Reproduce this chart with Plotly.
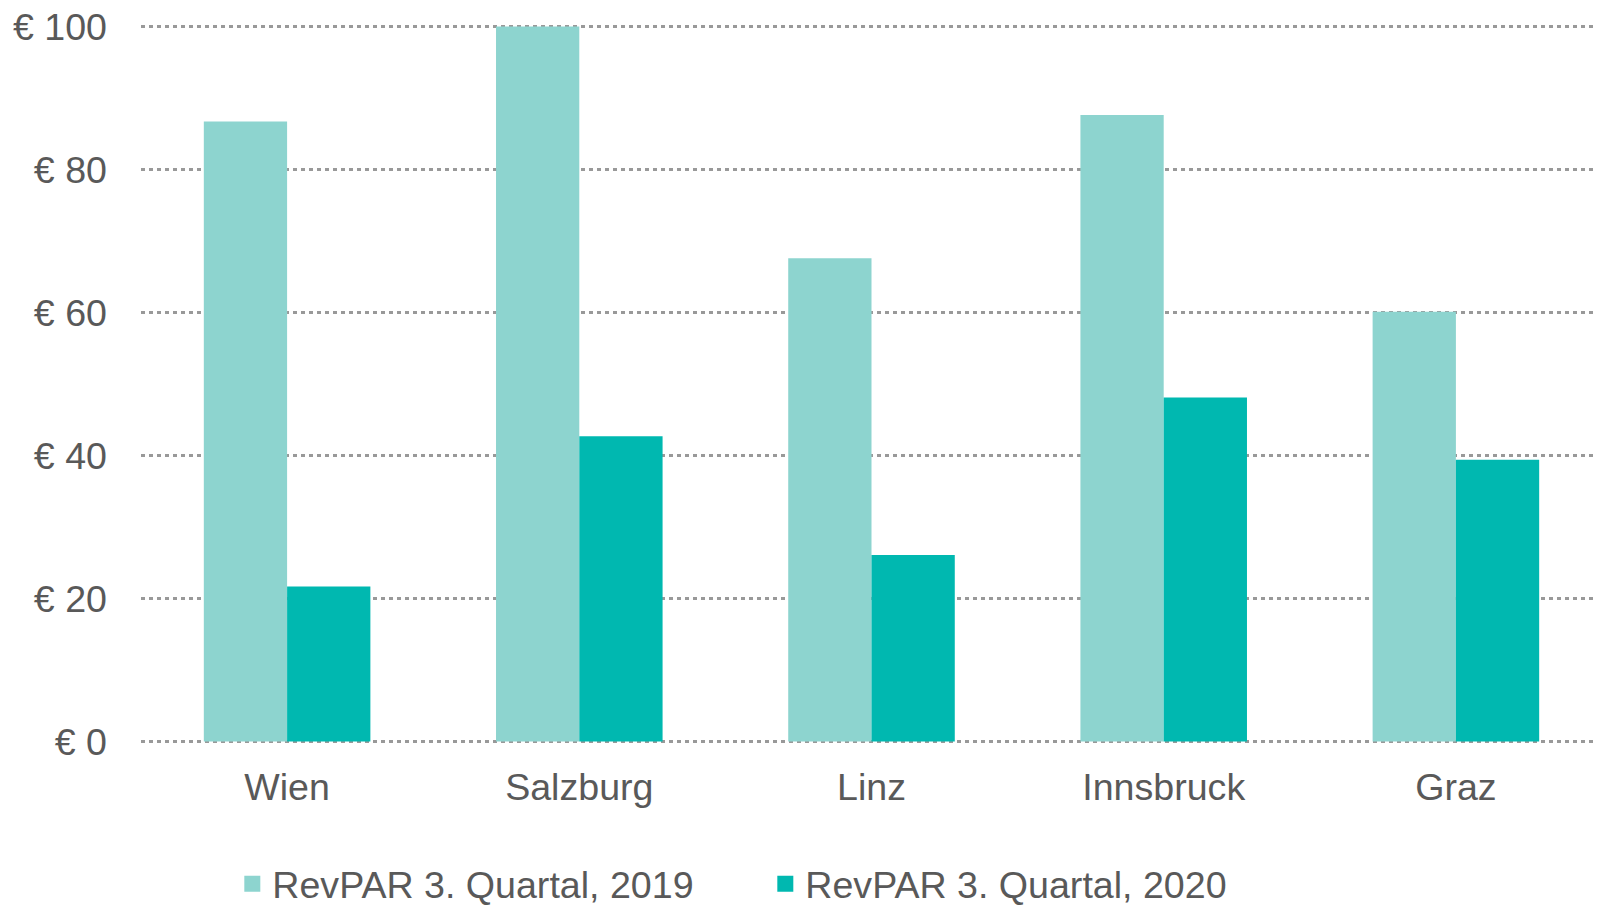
import plotly.graph_objects as go

cities = ["Wien", "Salzburg", "Linz", "Innsbruck", "Graz"]
revpar_2019 = [86.7, 100.0, 67.6, 87.6, 60.1]
revpar_2020 = [21.7, 42.7, 26.1, 48.1, 39.4]
series_names = ["RevPAR 3. Quartal, 2019", "RevPAR 3. Quartal, 2020"]
series_colors = ["#8DD4CF", "#00B8B0"]
y_ticks = [0, 20, 40, 60, 80, 100]
y_tick_labels = ["€ 0", "€ 20", "€ 40", "€ 60", "€ 80", "€ 100"]

TEXT = "#595959"
FONT = "Liberation Sans, Arial, sans-serif"
FS = 37.6

fig = go.Figure()
for vals, name, col in zip([revpar_2019, revpar_2020], series_names, series_colors):
    fig.add_trace(go.Bar(x=cities, y=vals, name=name, showlegend=False,
                         marker=dict(color=col, line=dict(width=0))))
for name, col in zip(series_names, series_colors):
    fig.add_trace(go.Scatter(x=[None], y=[None], mode="markers", name=name,
                             marker=dict(symbol="square", size=20, color=col)))

# page body has an 8px default margin, so the figure is drawn 8px in from the corner
W, H = 1594, 900
ml, mr, mt, mb = 133, 0, 17.3, 164.9
fig.update_layout(
    width=W, height=H,
    margin=dict(l=ml, r=mr, t=mt, b=mb, pad=0, autoexpand=False),
    paper_bgcolor="white", plot_bgcolor="white",
    barmode="group", bargap=0.43, bargroupgap=0,
    font=dict(family=FONT, color=TEXT, size=FS),
    showlegend=True,
    legend=dict(orientation="h", x=0.0625, xanchor="left", y=-0.196, yanchor="middle",
                font=dict(size=FS, color=TEXT), entrywidth=488, entrywidthmode="pixels",
                bgcolor="rgba(0,0,0,0)", traceorder="normal"),
    xaxis=dict(showgrid=False, showline=False, zeroline=False, ticks="",
               tickfont=dict(size=FS, color=TEXT), ticklabelstandoff=18),
    yaxis=dict(range=[-0.2, 100.2], tickvals=y_ticks, ticktext=y_tick_labels,
               showgrid=True, gridcolor="#999999", gridwidth=3, griddash="4px,4px",
               zeroline=False, showline=False, ticks="", ticklabeloverflow="allow",
               tickfont=dict(size=FS, color=TEXT), ticklabelstandoff=33),
)
fig.write_html("out.html")
